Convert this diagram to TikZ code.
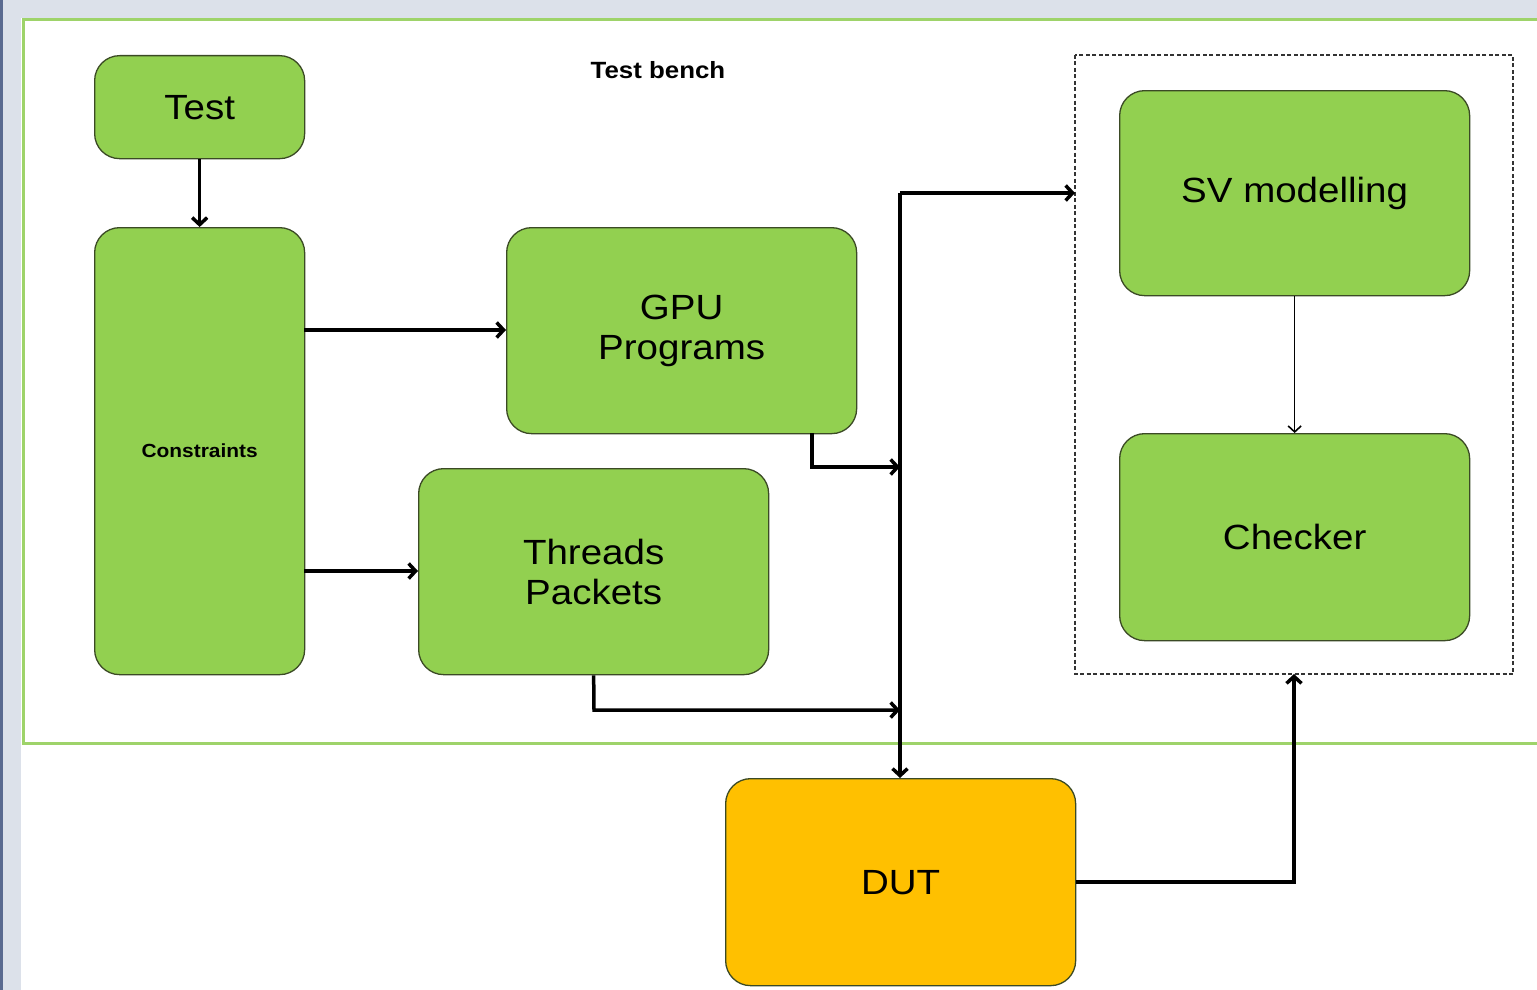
\documentclass[tikz,border=0pt]{standalone}
\usepackage{fontspec}
\setmainfont[FakeStretch=1.1]{Liberation Sans}
\usetikzlibrary{arrows.meta}
\definecolor{boxgreen}{HTML}{92D050}
\definecolor{frameg}{HTML}{9ED36A}
\definecolor{dutor}{HTML}{FFC000}
\definecolor{bggray}{HTML}{DCE1EA}
\definecolor{edgeblue}{HTML}{5A6A90}
\definecolor{boxedge}{HTML}{3B4A25}
\begin{document}
\begin{tikzpicture}[x=1pt,y=-1pt,
  blk/.style={draw=boxedge,line width=1.3pt,rounded corners=25pt,fill=boxgreen,inner sep=0pt,anchor=north west,align=center},
  conn/.style={line width=3.5pt,-{Straight Barb[length=7pt,width=15pt,line width=3.5pt]}},
  thin/.style={line width=1.6pt,-{Straight Barb[length=6pt,width=13pt,line width=1.6pt]}},
  lbl/.style={font=\fontsize{35}{40}\selectfont}
]
\useasboundingbox (0,0) rectangle (1537,990);
\fill[bggray] (0,0) rectangle (1537,990);
\fill[edgeblue] (0,0) rectangle (3,990);
\fill[white] (21,18) rectangle (1537,990);
\draw[frameg,line width=3pt] (1540,20) -- (23,20) -- (23,743) -- (1540,743);
\node[font=\bfseries\fontsize{23.5}{26}\selectfont] (tb) at (658,70) {Test bench};
\draw[black!80,line width=2pt,dash pattern=on 4pt off 2.5pt] (1075,55) rectangle (1513,674);
\node[blk,minimum width=210pt,minimum height=103pt,lbl] (test) at (94,55) {Test};
\node[blk,minimum width=210pt,minimum height=447pt,font=\bfseries\fontsize{19}{22}\selectfont] (cons) at (94,227) {Constraints};
\node[blk,minimum width=350pt,minimum height=206pt,lbl] (gpu) at (506,227) {GPU\\Programs};
\node[blk,minimum width=350pt,minimum height=206pt,lbl] (thr) at (418,468) {Threads\\Packets};
\node[blk,minimum width=350pt,minimum height=205pt,lbl] (sv) at (1119,90) {SV modelling};
\node[blk,minimum width=350pt,minimum height=207pt,lbl] (chk) at (1119,433) {Checker};
\node[blk,fill=dutor,minimum width=350pt,minimum height=207pt,lbl] (dut) at (725,778) {DUT};
\coordinate (bus1) at (900,467);
\coordinate (bus2) at (900,710);
\coordinate (bustop) at (900,193);
\coordinate (chkin) at (1294,674);
\draw[conn] (test.south) -- (cons.north);
\draw[conn] (304,330) -- (gpu.west |- 0,330);
\draw[conn] (304,571) -- (thr.west |- 0,571);
\draw[conn] (812,433) -- (812,467) -- (bus1);
\draw[conn] (thr.south) -- (594,710) -- (bus2);
\draw[line width=3.5pt] (bustop) -- (bus1);
\draw[conn] (bustop) -- (dut.north -| bustop);
\draw[conn] (bustop) -- (1075,193);
\draw[thin] (sv.south) -- (chk.north);
\draw[conn] (dut.east) -| (chkin);
\end{tikzpicture}
\end{document}
